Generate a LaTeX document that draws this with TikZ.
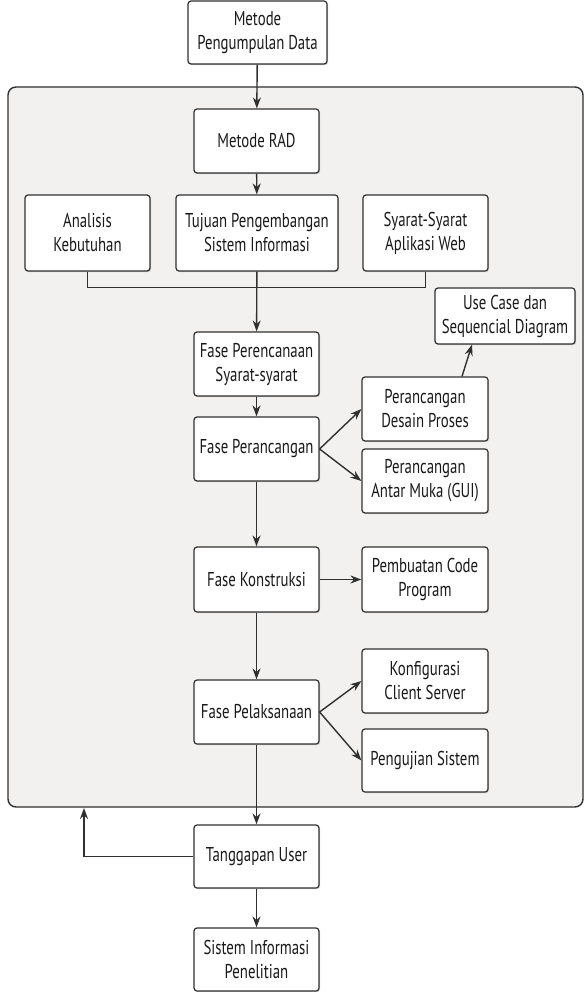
\documentclass[tikz,border=0pt]{standalone}
\usepackage{fontspec}
\setmainfont{PT Sans}[FakeStretch=0.74]
\usetikzlibrary{arrows.meta,shadows}
\definecolor{panel}{HTML}{F2F1EF}
\definecolor{edge}{HTML}{303030}

\begin{document}
\begin{tikzpicture}[x=1pt,y=-1pt,>={Stealth[length=11pt,width=8pt]},
  box/.style={draw=edge,line width=1.2pt,fill=white,rounded corners=3pt,align=center,
    inner sep=2pt,text=black!90,font=\fontsize{20}{24}\selectfont,
    drop shadow={shadow xshift=1pt,shadow yshift=-1.2pt,opacity=0.35,fill=gray}},
  link/.style={draw=edge,line width=1.4pt}]
  \useasboundingbox (0,0) rectangle (585,992);
  \draw[draw=edge,line width=1.4pt,fill=panel,rounded corners=8pt] (8,87) rectangle (583,807);
  \node[box,minimum width=139pt,minimum height=63pt] (data) at (257.5,32.5) {Metode\\Pengumpulan Data};
  \node[box,minimum width=125pt,minimum height=64pt] (rad) at (256.5,141) {Metode RAD};
  \node[box,minimum width=125pt,minimum height=76pt] (analisis) at (87.5,233) {Analisis\\Kebutuhan};
  \node[box,minimum width=162pt,minimum height=76pt] (tujuan) at (257,233) {Tujuan Pengembangan\\Sistem Informasi};
  \node[box,minimum width=125pt,minimum height=76pt] (syarat) at (425.5,233) {Syarat-Syarat\\Aplikasi Web};
  \node[box,minimum width=140pt,minimum height=56pt] (usecase) at (505,316) {Use Case dan\\Sequencial Diagram};
  \node[box,minimum width=125pt,minimum height=64pt] (rencana) at (256.5,364) {Fase Perencanaan\\Syarat-syarat};
  \node[box,minimum width=126pt,minimum height=64pt] (desain) at (425,409) {Perancangan\\Desain Proses};
  \node[box,minimum width=125pt,minimum height=64pt] (rancang) at (256.5,449) {Fase Perancangan};
  \node[box,minimum width=126pt,minimum height=64pt] (gui) at (425,481) {Perancangan\\Antar Muka (GUI)};
  \node[box,minimum width=125pt,minimum height=65pt] (konstruksi) at (256.5,579.5) {Fase Konstruksi};
  \node[box,minimum width=126pt,minimum height=65pt] (program) at (425,579.5) {Pembuatan Code\\Program};
  \node[box,minimum width=126pt,minimum height=64pt] (konfigurasi) at (425,681) {Konfigurasi\\Client Server};
  \node[box,minimum width=125pt,minimum height=64pt] (pelaksanaan) at (256.5,712) {Fase Pelaksanaan};
  \node[box,minimum width=126pt,minimum height=63pt] (pengujian) at (425,760.5) {Pengujian Sistem};
  \node[box,minimum width=125pt,minimum height=63pt] (tanggapan) at (256.5,856.5) {Tanggapan User};
  \node[box,minimum width=125pt,minimum height=63pt] (penelitian) at (256.5,959.5) {Sistem Informasi\\Penelitian};
  \coordinate (balik) at (84,808);
  % alur utama
  \draw[link,->] (data) -- (rad);
  \draw[link,->] (rad) -- (tujuan);
  \draw[link] (analisis.south) -- ++(0,16) -| (syarat.south);
  \draw[link,->] (tujuan) -- (rencana);
  \draw[link,->] (rencana) -- (rancang);
  \draw[link,->] (rancang.east) -- (desain.west);
  \draw[link,->] (rancang.east) -- (gui.west);
  \draw[link,->] ([xshift=37pt]desain.north) -- ([xshift=-33pt]usecase.south);
  \draw[link,->] (rancang) -- (konstruksi);
  \draw[link,->] (konstruksi) -- (program);
  \draw[link,->] (konstruksi) -- (pelaksanaan);
  \draw[link,->] (pelaksanaan.east) -- (konfigurasi.west);
  \draw[link,->] (pelaksanaan.east) -- (pengujian.west);
  \draw[link,->] (pelaksanaan) -- (tanggapan);
  \draw[link,->] (tanggapan) -- (penelitian);
  \draw[link,->] (tanggapan.west) -| (balik);
\end{tikzpicture}
\end{document}
